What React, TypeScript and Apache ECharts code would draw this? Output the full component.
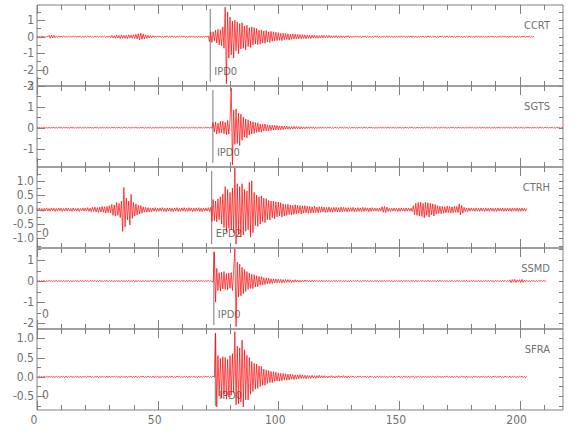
import React, { useEffect, useRef } from "react";
import * as echarts from "echarts";

// ---- data ----
const stations = ["CCRT", "SGTS", "CTRH", "SSMD", "SFRA"];
const pickTimes = [71.8, 72.9, 72.4, 73.3, 73.9];
const pickLabels = ["IPD0", "IPD0", "EPD2", "IPD0", "IPD0"];
const cornerLabels = ["0", "", "0", "0", "0"];
const yMins = [-3, -1.88, -1.33, -2.28, -0.86];
const yMaxs = [1.93, 2.0, 1.48, 1.57, 1.24];
const yLabelTicks = [
  [-3, -2, -1, 0, 1],
  [-1, 0, 1, 2],
  [-1, -0.5, 0, 0.5, 1],
  [-2, -1, 0, 1],
  [-0.5, 0, 0.5, 1],
];
const yMinorSteps = [0.5, 0.5, 0.25, 0.5, 0.25];
const yDecimals = [0, 0, 1, 0, 1];
const xMin = 0;
const xMax = 218;
const xLabelTicks = [0, 50, 100, 150, 200];
const xMinorStep = 10;
const traceStart = 0; // s
const sampleStep = 0.5; // s
const ampUnit = 0.01; // values below are in hundredths

const ccrtValues = [
  2,-3,1,-2,3,-2,1,-3,2,-1,8,-9,10,-7,9,-6,4,-3,3,-2,
  3,-2,4,-3,2,-4,3,-2,1,-3,4,-2,3,-3,2,-1,3,-4,2,-3,
  3,-2,4,-3,3,-4,2,-3,4,-2,3,-3,2,-4,3,-2,4,-3,2,-3,
  5,-6,8,-7,6,-9,10,-8,7,-11,12,-9,8,-10,9,-12,11,-8,10,-9,
  12,-10,14,-13,18,-20,22,-16,17,-14,12,-10,9,-8,7,-6,6,-5,5,-4,
  4,-3,5,-4,3,-5,4,-3,5,-4,3,-4,5,-3,4,-5,3,-4,4,-3,
  4,-3,5,-4,3,-5,4,-4,5,-3,4,-5,3,-4,5,-4,3,-5,4,-3,
  4,-3,5,-30,28,-35,30,-25,40,-38,45,-50,42,-55,60,-70,180,-285,150,-130,
  120,-110,95,-130,100,-85,90,-105,80,-75,85,-70,65,-80,70,-60,55,-65,60,-50,
  55,-45,50,-48,40,-45,42,-38,35,-40,38,-32,30,-35,32,-28,30,-25,27,-24,
  25,-22,20,-24,22,-18,20,-17,18,-20,16,-15,17,-14,15,-13,14,-12,13,-12,
  12,-10,11,-12,10,-9,10,-11,9,-8,10,-9,8,-9,7,-8,9,-7,8,-7,
  7,-6,8,-7,6,-7,6,-5,7,-6,5,-6,6,-5,5,-6,5,-4,6,-5,
  4,-5,3,-4,5,-3,4,-4,3,-5,4,-3,5,-4,3,-4,4,-5,3,-4,
  5,-3,4,-4,3,-5,4,-3,3,-4,5,-4,3,-3,4,-5,3,-4,4,-3,
  3,-4,5,-3,4,-4,3,-5,4,-3,5,-4,4,-3,3,-5,4,-4,3,-3,
  4,-4,3,-5,5,-3,4,-4,3,-3,4,-5,3,-4,5,-3,4,-3,3,-4,
  5,-4,3,-3,4,-5,3,-4,4,-3,5,-4,3,-5,4,-3,3,-4,5,-4,
  3,-3,4,-5,4,-3,5,-4,3,-4,4,-3,3,-5,4,-4,5,-3,3,-4,
  4,-5,3,-3,4,-4,5,-3,3,-4,4,-5,3,-3,4,-4,3,-5,4,-3,
  3,-4,4,-3,5,-4,3,-3,4,-4,3,-3,2,
];

const sgtsValues = [
  2,-1,2,-2,1,-2,2,-1,1,-2,2,-2,1,-1,2,-2,1,-2,2,-1,
  1,-2,2,-1,2,-2,1,-2,2,-1,1,-2,2,-2,1,-1,2,-2,1,-2,
  2,-2,1,-1,2,-2,1,-2,2,-1,2,-2,1,-2,2,-1,1,-2,2,-2,
  1,-2,2,-1,2,-2,1,-1,2,-2,1,-2,2,-1,1,-2,2,-2,1,-1,
  2,-1,2,-2,1,-2,2,-1,1,-2,2,-2,1,-1,2,-2,1,-2,2,-1,
  1,-2,2,-1,2,-2,1,-2,2,-1,1,-2,2,-2,1,-1,2,-2,1,-2,
  2,-2,1,-1,2,-2,1,-2,2,-1,2,-2,1,-2,2,-1,1,-2,2,-2,
  2,-1,2,-2,1,-2,25,-20,28,-30,22,-27,30,-25,32,-28,26,-33,35,-30,
  40,190,-178,85,-80,90,-75,70,-85,65,-60,50,-45,42,-48,38,-35,32,-30,28,
  -27,25,-22,24,-20,18,-21,17,-16,18,-15,14,-15,12,-13,12,-11,12,-10,11,
  -10,9,-10,8,-9,8,-7,8,-7,6,-7,6,-6,7,-5,6,-5,5,-6,5,
  -5,4,-5,4,-4,5,-4,4,-3,4,-4,3,-4,3,-3,4,-3,3,-3,3,
  -3,3,-2,3,-3,2,-3,3,-2,2,-3,3,-2,2,-2,3,-2,2,-3,2,
  -2,2,-1,2,-2,1,-2,2,-1,2,-2,2,-1,1,-2,2,-1,2,-2,1,
  -2,1,-2,2,-1,2,-2,1,-1,2,-2,2,-1,2,-1,1,-2,2,-2,1,
  -1,2,-2,1,-2,2,-1,1,-2,2,-1,2,-2,1,-2,2,-1,1,-2,2,
  -2,2,-1,2,-1,1,-2,2,-2,1,-1,2,-2,1,-2,2,-1,2,-1,1,
  -2,1,-2,2,-1,2,-2,1,-2,2,-1,1,-2,2,-2,1,-1,2,-2,2,
  -1,2,-2,1,-2,1,-1,2,-2,2,-1,2,-2,1,-1,2,-2,1,-2,2,
  -2,1,-1,2,-2,2,-1,1,-2,2,-1,2,-2,1,-2,2,-1,2,-2,1,
  -1,2,-2,1,-2,2,-1,2,-1,1,-2,2,-2,1,-1,2,-2,2,-1,1,
  -2,2,-1,2,-2,1,-1,2,-2,1,-2,2,-1,2,-2,1,-1,
];

const ctrhValues = [
  5,-4,6,-5,4,-6,5,-3,6,-5,4,-5,6,-4,5,-6,4,-5,6,-4,
  5,-6,4,-5,6,-4,5,-5,4,-6,6,-5,4,-5,5,-6,4,-4,6,-5,
  6,-5,7,-6,5,-7,8,-6,9,-8,7,-10,9,-8,11,-9,10,-12,11,-10,
  14,-12,18,-20,16,-22,25,-20,22,-28,30,-75,77,-60,40,-35,30,-53,53,-30,
  25,-22,20,-18,16,-15,14,-12,10,-9,8,-9,7,-8,6,-7,6,-5,7,-6,
  5,-6,6,-5,7,-6,5,-7,6,-5,6,-6,5,-7,6,-5,7,-6,5,-6,
  6,-5,7,-6,5,-6,7,-5,6,-7,5,-6,6,-5,7,-6,5,-7,6,-5,
  6,-5,7,-6,8,-40,35,-38,30,-42,38,-35,45,-50,55,-62,80,-78,70,-65,
  60,-70,75,-80,145,-120,90,-85,80,-95,90,-88,70,-75,65,-70,95,-95,100,-80,
  60,-55,50,-58,45,-50,48,-42,40,-45,38,-35,32,-36,30,-28,30,-32,27,-25,
  26,-22,24,-25,20,-22,18,-20,19,-17,16,-18,15,-16,17,-14,15,-13,14,-15,
  13,-12,14,-11,12,-13,11,-12,10,-11,12,-10,9,-11,10,-9,10,-8,9,-10,
  8,-9,9,-8,7,-9,8,-7,8,-8,7,-8,9,-7,8,-6,7,-8,7,-6,
  7,-6,8,-7,6,-7,7,-6,6,-7,8,-6,7,-5,6,-7,6,-6,7,-5,
  6,-5,5,-6,6,-5,10,-9,11,-10,9,-6,5,-6,5,-5,6,-5,5,-6,
  5,-6,6,-5,5,-6,6,-5,6,-5,5,-6,14,-18,22,-20,25,-22,26,-24,
  22,-28,25,-20,24,-26,22,-18,20,-22,18,-15,14,-13,12,-14,11,-12,10,-11,
  12,-10,11,-12,10,-11,12,-9,11,-10,20,-18,15,-12,8,-7,6,-7,6,-5,
  6,-5,5,-6,6,-5,5,-6,6,-5,5,-6,6,-5,5,-6,6,-5,5,-6,
  5,-6,6,-5,5,-5,6,-6,5,-5,6,-5,5,-6,6,-5,5,-5,6,-6,
  5,-6,6,-5,5,-5,4,
];

const ssmdValues = [
  3,-2,2,-3,2,-2,3,-3,2,-2,3,-2,2,-3,3,-2,2,-3,2,-2,
  2,-3,3,-2,2,-2,3,-3,2,-3,2,-2,3,-2,2,-3,3,-2,2,-3,
  3,-2,2,-3,3,-2,2,-2,3,-3,2,-2,3,-2,2,-3,2,-2,3,-3,
  2,-2,3,-3,2,-2,3,-2,2,-3,3,-2,2,-3,2,-2,3,-3,2,-2,
  3,-3,2,-2,3,-2,2,-3,2,-2,3,-3,2,-2,3,-2,2,-3,3,-2,
  2,-3,2,-2,3,-3,2,-2,3,-2,2,-3,3,-2,2,-2,3,-3,2,-3,
  3,-2,3,-3,2,-2,3,-2,2,-3,2,-2,3,-3,2,-2,3,-2,2,-3,
  3,-2,3,-2,2,-3,-5,139,-100,60,-45,40,-48,42,-38,45,-40,35,-42,38,
  -35,40,-45,50,153,-217,90,-75,80,-70,65,-60,55,-50,45,-40,38,-35,32,-36,
  30,-28,25,-27,22,-20,21,-18,16,-17,15,-13,14,-12,11,-12,10,-9,10,-8,
  9,-8,8,-9,7,-8,7,-6,7,-6,6,-7,5,-6,6,-5,5,-5,4,-5,
  4,-4,5,-3,4,-4,3,-4,4,-3,4,-3,3,-4,3,-3,4,-3,3,-3,
  3,-2,3,-3,2,-3,3,-2,2,-3,3,-2,3,-3,2,-2,3,-3,2,-2,
  2,-3,3,-2,2,-2,3,-3,2,-3,2,-2,3,-2,2,-3,3,-2,2,-3,
  3,-2,2,-3,3,-2,2,-2,3,-3,2,-2,3,-2,2,-3,2,-2,3,-3,
  2,-2,3,-3,2,-2,3,-2,2,-3,3,-2,2,-3,2,-2,3,-3,2,-2,
  3,-3,2,-2,3,-2,2,-3,2,-2,3,-3,2,-2,3,-2,2,-3,3,-2,
  2,-3,2,-2,3,-3,2,-2,3,-2,2,-3,3,-2,2,-2,3,-3,2,-3,
  3,-2,3,-3,2,-2,3,-2,2,-3,2,-2,3,-3,2,-2,3,-2,2,-3,
  3,-2,3,-3,2,-3,3,-2,3,-3,2,-3,6,-8,7,-6,8,-7,5,-4,
  6,-7,8,-6,4,-3,3,-3,2,-3,3,-2,3,-3,2,-3,3,-2,3,-2,
  3,-2,2,
];

const sfraValues = [
  1,-2,2,-1,1,-2,2,-1,2,-2,1,-1,2,-2,1,-2,2,-1,1,-2,
  2,-1,1,-2,2,-2,1,-1,2,-2,1,-2,2,-1,1,-2,2,-2,1,-1,
  1,-2,2,-1,2,-2,1,-2,1,-1,2,-2,1,-2,2,-1,1,-2,2,-2,
  2,-2,1,-1,2,-1,2,-2,1,-2,2,-1,1,-2,2,-2,1,-1,2,-2,
  1,-1,2,-2,1,-2,2,-1,2,-2,1,-2,2,-1,1,-2,2,-2,1,-1,
  2,-2,1,-2,2,-1,1,-2,2,-2,1,-1,2,-2,1,-2,2,-1,2,-2,
  1,-2,2,-1,1,-2,2,-2,1,-1,2,-2,1,-2,2,-1,1,-2,2,-1,
  2,-1,2,-2,1,-2,2,-1,113,-78,55,-50,48,-55,52,-45,50,-58,45,-52,
  55,-48,60,-40,117,-73,80,-70,75,-65,95,-78,70,-60,56,-60,50,-45,40,-38,
  35,-32,33,-30,28,-25,27,-22,20,-22,18,-17,16,-15,14,-15,13,-12,12,-11,
  10,-11,9,-10,9,-8,8,-9,7,-8,7,-6,6,-7,5,-6,5,-5,6,-4,
  5,-4,4,-5,4,-4,3,-4,4,-3,3,-4,3,-3,4,-3,3,-3,3,-2,
  2,-3,2,-2,3,-2,2,-3,2,-2,3,-2,2,-2,3,-2,2,-3,2,-2,
  2,-1,2,-2,1,-2,2,-1,2,-2,1,-1,2,-2,1,-2,2,-1,1,-2,
  1,-2,2,-1,2,-2,1,-1,2,-2,1,-2,2,-1,1,-2,2,-2,1,-1,
  2,-2,1,-2,2,-1,1,-2,2,-2,1,-1,2,-2,1,-2,2,-1,2,-2,
  1,-1,2,-2,1,-2,2,-1,2,-2,1,-2,2,-1,1,-2,2,-2,1,-1,
  2,-1,1,-2,2,-2,1,-1,2,-2,1,-2,2,-1,1,-2,2,-2,1,-2,
  1,-2,2,-1,1,-2,2,-2,1,-1,2,-2,1,-2,2,-1,1,-2,2,-1,
  2,-2,1,-1,2,-2,1,-2,2,-1,1,-2,2,-2,1,-1,2,-2,1,-2,
  2,-1,2,-2,1,-2,1,
];

const traces = [ccrtValues, sgtsValues, ctrhValues, ssmdValues, sfraValues];

// ---- style / layout ----
const FONT = '"Liberation Sans Narrow", "DejaVu Sans Condensed", "Arial Narrow", sans-serif';
const AXIS_COLOR = "#808080";
const TICK_COLOR = "#808080";
const TEXT_COLOR = "#707070";
const TRACE_COLOR = "#ff0000";
const PICK_COLOR = "#7a7a7a";
const GRID_LEFT = 37;
const GRID_RIGHT = 17;
const GRID_TOP = 5;
const PANEL_H = 81;

function multiplesWithin(min: number, max: number, step: number): number[] {
  const out: number[] = [];
  for (let k = Math.ceil(min / step - 1e-9); k * step <= max + 1e-9; k++) {
    out.push(+(k * step).toFixed(4));
  }
  return out;
}

function buildOption(): any {
  const grid: any[] = [];
  const xAxis: any[] = [];
  const yAxis: any[] = [];
  const series: any[] = [];
  const n = stations.length;

  stations.forEach((_, i) => {
    grid.push({
      left: GRID_LEFT,
      right: GRID_RIGHT,
      top: GRID_TOP + i * PANEL_H,
      height: PANEL_H,
      show: true,
      borderColor: AXIS_COLOR,
      borderWidth: 1,
      backgroundColor: "rgba(0,0,0,0)",
      containLabel: false,
      outerBoundsMode: "none",
    });
    const isLast = i === n - 1;
    xAxis.push({
      type: "value",
      gridIndex: i,
      position: "bottom",
      min: xMin,
      max: xMax,
      axisLine: { show: false, onZero: false },
      splitLine: { show: false },
      axisTick: { show: false },
      axisLabel: isLast
        ? {
            show: true,
            customValues: xLabelTicks,
            color: TEXT_COLOR,
            fontSize: 12,
            fontFamily: FONT,
            margin: 4,
            padding: [0, 6, 0, 0],
            formatter: (v: number) => String(v),
          }
        : { show: false },
    });
    const dec = yDecimals[i];
    yAxis.push({
      type: "value",
      gridIndex: i,
      position: "left",
      min: yMins[i],
      max: yMaxs[i],
      axisLine: { show: false, onZero: false },
      splitLine: { show: false },
      axisTick: { show: false },
      axisLabel: {
        show: true,
        customValues: yLabelTicks[i],
        color: TEXT_COLOR,
        fontSize: 12,
        fontFamily: FONT,
        margin: 3,
        formatter: (v: number) => v.toFixed(dec),
      },
    });
    series.push({
      type: "line",
      xAxisIndex: i,
      yAxisIndex: i,
      data: traces[i].map((v, k) => [traceStart + k * sampleStep, v * ampUnit]),
      showSymbol: false,
      symbol: "none",
      silent: true,
      z: 3,
      lineStyle: { color: TRACE_COLOR, width: 0.7 },
      animation: false,
    });
  });

  return { animation: false, grid, xAxis, yAxis, series };
}

function tickLine(x1: number, y1: number, x2: number, y2: number): any {
  return {
    type: "line",
    z: 10,
    shape: { x1, y1, x2, y2 },
    style: { stroke: TICK_COLOR, lineWidth: 1 },
  };
}

export default function App() {
  const ref = useRef<HTMLDivElement>(null);
  useEffect(() => {
    if (!ref.current) return;
    const chart = echarts.init(ref.current, undefined, { renderer: "svg" });
    chart.setOption(buildOption());
    const graphic: any[] = [];
    const xMajor = xLabelTicks;
    const xMinor = multiplesWithin(xMin, xMax, xMinorStep).filter((v) => !xMajor.includes(v));
    const leftPx = GRID_LEFT;
    const rightPx = 580 - GRID_RIGHT;
    stations.forEach((name, i) => {
      const top = GRID_TOP + i * PANEL_H;
      const bottom = top + PANEL_H;
      const xPx = (v: number) => Math.round(Number(chart.convertToPixel({ xAxisIndex: i } as any, v))) + 0.5;
      xMajor.forEach((v) => {
        const p = xPx(v);
        graphic.push(tickLine(p, top, p, top + 9));
        graphic.push(tickLine(p, bottom, p, bottom - 9));
      });
      xMinor.forEach((v) => {
        const p = xPx(v);
        graphic.push(tickLine(p, top, p, top + 5));
        graphic.push(tickLine(p, bottom, p, bottom - 5));
      });
      const yPx = (v: number) => Math.round(Number(chart.convertToPixel({ yAxisIndex: i } as any, v))) + 0.5;
      const major = yLabelTicks[i];
      const all = multiplesWithin(yMins[i], yMaxs[i], yMinorSteps[i]);
      all.forEach((v) => {
        const p = yPx(v);
        const isMajor = major.includes(v);
        graphic.push(tickLine(leftPx, p, leftPx + (isMajor ? 8 : 4), p));
        graphic.push(tickLine(rightPx, p, rightPx - 4, p));
      });

      graphic.push({
        type: "text",
        x: 550,
        y: top + 20,
        style: { text: name, fill: TEXT_COLOR, fontSize: 11, fontFamily: FONT, align: "right", verticalAlign: "middle" },
      });
      if (cornerLabels[i]) {
        graphic.push({
          type: "text",
          x: 42,
          y: bottom - 15,
          style: { text: cornerLabels[i], fill: TEXT_COLOR, fontSize: 12, fontFamily: FONT, align: "left", verticalAlign: "middle" },
        });
      }
      const px = Number(chart.convertToPixel({ xAxisIndex: i } as any, pickTimes[i]));
      graphic.push({
        type: "line",
        shape: { x1: px, y1: top + 4, x2: px, y2: bottom - 4 },
        style: { stroke: PICK_COLOR, lineWidth: 1 },
      });
      graphic.push({
        type: "text",
        x: px + 4,
        y: bottom - 15,
        style: { text: pickLabels[i], fill: TEXT_COLOR, fontSize: 11, fontFamily: FONT, align: "left", verticalAlign: "middle" },
      });
    });
    chart.setOption({ graphic: { elements: graphic } });
    return () => chart.dispose();
  }, []);
  return <div ref={ref} style={{ position: "absolute", left: 0, top: 0, width: 580, height: 440 }} />;
}
